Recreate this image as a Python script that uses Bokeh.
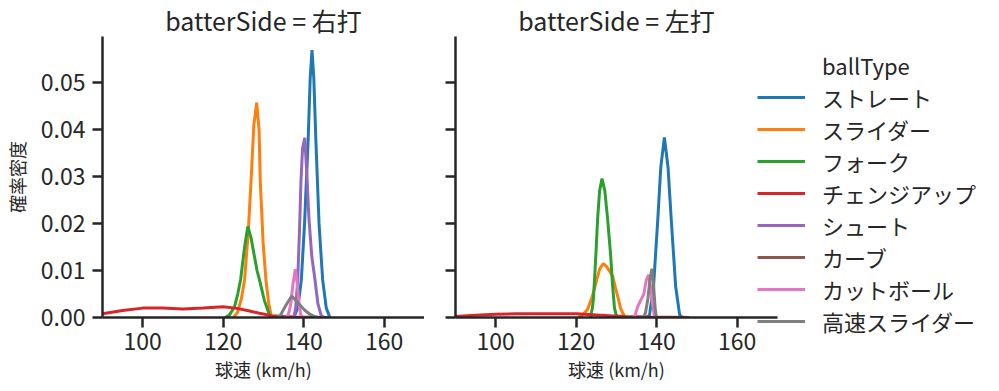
from bokeh.plotting import figure
from bokeh.layouts import row
from bokeh.models import Range1d, FixedTicker, PrintfTickFormatter, Legend, LegendItem
from bokeh.embed import file_html
from bokeh.resources import INLINE

FONT = "Noto Sans CJK JP"
TXT = "#262626"

LEGEND_TITLE = "ballType"
BALL_TYPES = ["ストレート", "スライダー", "フォーク", "チェンジアップ", "シュート", "カーブ", "カットボール", "高速スライダー"]
COLORS = ["#1f77b4", "#ff7f0e", "#2ca02c", "#d62728", "#9467bd", "#8c564b", "#e377c2", "#7f7f7f"]
PANELS = ["右打", "左打"]
X_TICKS = [100, 120, 140, 160]
Y_TICKS = [0.0, 0.01, 0.02, 0.03, 0.04, 0.05]

# ---- batterSide = 右打 : KDE curves (speed km/h, density) ----
R_STRAIGHT_X = [137.5, 138.5, 139.4, 140.2, 141.1, 141.6, 142.05, 142.5, 143.0, 143.8, 144.7, 145.6, 146.5]
R_STRAIGHT_Y = [0.0, 0.002, 0.008, 0.020, 0.038, 0.051, 0.057, 0.051, 0.038, 0.020, 0.008, 0.002, 0.0]
R_SLIDER_X = [122.5, 123.5, 124.5, 125.3, 126.2, 126.9, 127.6, 128.3, 128.9, 129.2, 129.9, 130.6, 131.3, 132.0]
R_SLIDER_Y = [0.0, 0.001, 0.004, 0.008, 0.018, 0.029, 0.041, 0.0458, 0.040, 0.029, 0.016, 0.008, 0.003, 0.0]
R_FORK_X = [120.5, 121.5, 122.8, 123.6, 124.3, 125.3, 126.1, 126.9, 127.75, 128.4, 129.0, 130.2, 131.5, 132.5]
R_FORK_Y = [0.0, 0.0005, 0.0023, 0.005, 0.008, 0.015, 0.0194, 0.017, 0.013, 0.010, 0.008, 0.0037, 0.0005, 0.0]
R_CHANGE_X = [88, 90, 95, 100, 105, 110, 115, 120, 123, 126, 129, 132, 135, 138, 142, 146]
R_CHANGE_Y = [0.0004, 0.0008, 0.0015, 0.0020, 0.0020, 0.0018, 0.0020, 0.0023, 0.0020, 0.0015, 0.0009, 0.0004, 0.0002, 0.0001, 0.00005, 0.0]
R_SHOOT_X = [137.5, 138.0, 138.5, 139.0, 139.3, 139.7, 140.25, 140.8, 141.3, 142.0, 142.8, 143.5, 144.3, 145.0]
R_SHOOT_Y = [0.0, 0.002, 0.008, 0.020, 0.029, 0.036, 0.0383, 0.030, 0.021, 0.013, 0.008, 0.003, 0.0005, 0.0]
R_CUTTER_X = [135.8, 136.3, 136.8, 137.3, 137.9, 138.4, 138.8, 139.3, 139.8]
R_CUTTER_Y = [0.0, 0.001, 0.003, 0.007, 0.0103, 0.007, 0.003, 0.0005, 0.0]
R_FASTSL_X = [133.5, 134.2, 135.5, 137.0, 138.5, 140.2, 141.5, 142.7, 143.5]
R_FASTSL_Y = [0.0, 0.0005, 0.0025, 0.0046, 0.0032, 0.0016, 0.0007, 0.0002, 0.0]

# ---- batterSide = 左打 ----
L_STRAIGHT_X = [137.5, 138.2, 139.2, 140.26, 141.0, 141.9, 142.8, 143.6, 144.7, 145.7, 146.5]
L_STRAIGHT_Y = [0.0, 0.0005, 0.0066, 0.0209, 0.032, 0.0384, 0.032, 0.0209, 0.0066, 0.0005, 0.0]
L_SLIDER_X = [120.5, 121.5, 122.8, 124.0, 124.9, 125.8, 126.7, 127.6, 128.4, 129.05, 129.7, 130.3, 131.0, 131.5, 132.3]
L_SLIDER_Y = [0.0, 0.0005, 0.0017, 0.0045, 0.0074, 0.0103, 0.0115, 0.0108, 0.0097, 0.0088, 0.0065, 0.0045, 0.002, 0.001, 0.0]
L_FORK_X = [123.5, 124.0, 124.25, 124.6, 124.9, 125.3, 125.8, 126.4, 127.1, 127.8, 128.5, 129.05, 129.5, 129.9, 130.5]
L_FORK_Y = [0.0, 0.002, 0.0038, 0.009, 0.0138, 0.0209, 0.027, 0.0296, 0.027, 0.0209, 0.0138, 0.0066, 0.002, 0.0006, 0.0]
L_CHANGE_X = [88, 90, 95, 100, 105, 110, 115, 120, 124, 128, 132, 138, 143, 148]
L_CHANGE_Y = [0.0001, 0.0002, 0.0005, 0.0007, 0.0008, 0.0008, 0.0008, 0.0008, 0.0006, 0.0004, 0.0002, 0.0001, 0.00005, 0.0]
L_CUTTER_X = [134.2, 134.6, 135.3, 136.1, 136.8, 137.4, 138.0, 138.4, 138.8, 139.4, 139.8]
L_CUTTER_Y = [0.0, 0.0005, 0.0024, 0.0038, 0.005, 0.008, 0.0091, 0.007, 0.0038, 0.0005, 0.0]
L_FASTSL_X = [136.7, 137.2, 137.8, 138.3, 138.8, 139.2, 139.6, 139.9]
L_FASTSL_Y = [0.0, 0.001, 0.004, 0.008, 0.0104, 0.007, 0.002, 0.0]

CURVES = {
    "右打": {
        "ストレート": (R_STRAIGHT_X, R_STRAIGHT_Y),
        "スライダー": (R_SLIDER_X, R_SLIDER_Y),
        "フォーク": (R_FORK_X, R_FORK_Y),
        "チェンジアップ": (R_CHANGE_X, R_CHANGE_Y),
        "シュート": (R_SHOOT_X, R_SHOOT_Y),
        "カットボール": (R_CUTTER_X, R_CUTTER_Y),
        "高速スライダー": (R_FASTSL_X, R_FASTSL_Y),
    },
    "左打": {
        "ストレート": (L_STRAIGHT_X, L_STRAIGHT_Y),
        "スライダー": (L_SLIDER_X, L_SLIDER_Y),
        "フォーク": (L_FORK_X, L_FORK_Y),
        "チェンジアップ": (L_CHANGE_X, L_CHANGE_Y),
        "カットボール": (L_CUTTER_X, L_CUTTER_Y),
        "高速スライダー": (L_FASTSL_X, L_FASTSL_Y),
    },
}

LW = 3


def style_axes(p, show_ylabels):
    p.outline_line_color = None
    p.grid.visible = False
    p.background_fill_color = "white"
    p.border_fill_color = "white"
    for ax in (p.xaxis[0], p.yaxis[0]):
        ax.axis_line_color = TXT
        ax.axis_line_width = 2.5
        ax.major_tick_line_color = TXT
        ax.major_tick_line_width = 2.5
        ax.major_tick_out = 10
        ax.major_tick_in = 0
        ax.minor_tick_out = 0
        ax.minor_tick_in = 0
        ax.major_label_text_font = FONT
        ax.major_label_text_font_size = "23px"
        ax.major_label_text_color = TXT
        ax.axis_label_text_font = FONT
        ax.axis_label_text_font_size = "18px"
        ax.axis_label_text_font_style = "normal"
        ax.axis_label_text_color = TXT
    p.xaxis.major_label_standoff = 5
    p.yaxis.major_label_standoff = 7
    p.xaxis.ticker = FixedTicker(ticks=X_TICKS)
    p.yaxis.ticker = FixedTicker(ticks=Y_TICKS)
    p.yaxis.formatter = PrintfTickFormatter(format="%.2f")
    p.xaxis.axis_label = "球速 (km/h)"
    p.xaxis.axis_label_standoff = 3
    if show_ylabels:
        p.yaxis.axis_label = "確率密度"
        p.yaxis.axis_label_standoff = 8
    else:
        p.yaxis.major_label_overrides = {t: "" for t in Y_TICKS}
    p.title.text_font = FONT
    p.title.text_font_size = "25px"
    p.title.text_font_style = "normal"
    p.title.text_color = TXT
    p.title.align = "center"
    try:
        p.title.standoff = -2
    except Exception:
        p.title.standoff = 0


figs = []
renderers = {}
for i, side in enumerate(PANELS):
    p = figure(
        frame_width=322, frame_height=281,
        x_range=Range1d(90, 170), y_range=Range1d(0, 0.0599),
        output_backend="svg", toolbar_location=None,
        min_border_left=96 if i == 0 else 31,
        min_border_right=0,
        min_border_top=25, min_border_bottom=66,
        title="batterSide = " + side,
    )
    style_axes(p, i == 0)
    for bt, col in zip(BALL_TYPES, COLORS):
        if bt in CURVES[side]:
            xs, ys = CURVES[side][bt]
        else:
            # legend-only entry: a single point, no visible line
            xs, ys = [80], [0]
        r = p.line(xs, ys, line_color=col, line_width=LW)
        if i == 1:
            renderers[bt] = r
    figs.append(p)

p2 = figs[1]
# legend heading as a glyph-less first row so that it lines up with the labels
heading = p2.line([80], [0], line_alpha=0)
items = [LegendItem(label=LEGEND_TITLE, renderers=[heading])]
items += [LegendItem(label=bt, renderers=[renderers[bt]]) for bt in BALL_TYPES]
legend = Legend(
    items=items,
    location=(-20, -20),
    glyph_width=48, glyph_height=32, label_height=32, spacing=0,
    label_standoff=17, padding=0, margin=0,
    label_text_font=FONT, label_text_font_size="22px", label_text_color=TXT,
    border_line_color=None, background_fill_alpha=0,
)
p2.add_layout(legend, "right")

layout = row(*figs)
open("out.html", "w").write(file_html(layout, INLINE))
